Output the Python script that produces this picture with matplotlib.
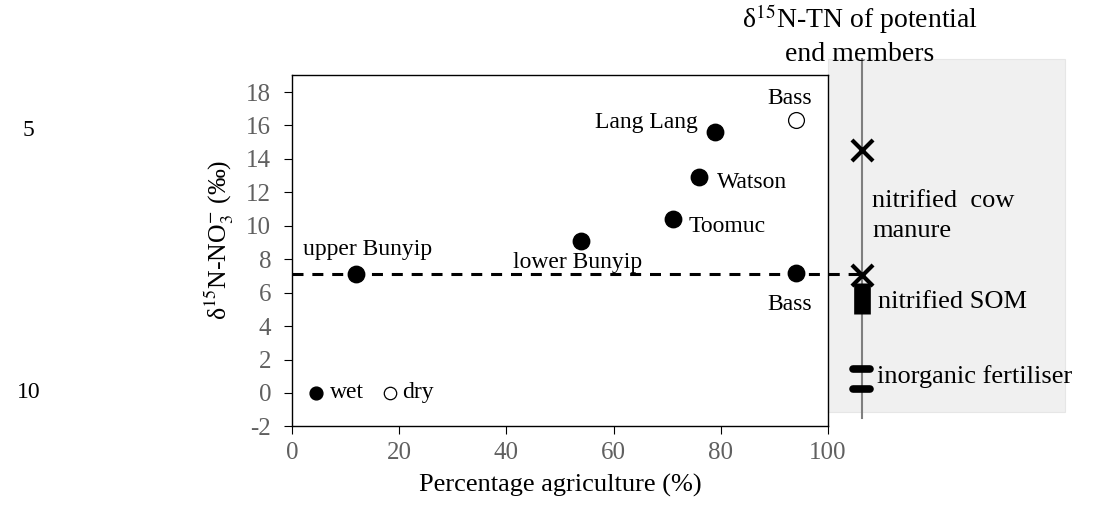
import matplotlib.pyplot as plt
from matplotlib.patches import Rectangle

plt.rcParams['font.family'] = ['Liberation Serif', 'DejaVu Serif']
plt.rcParams['mathtext.fontset'] = 'stix'
plt.rcParams['axes.unicode_minus'] = False

# site data (wet season, filled)
sites = ['upper Bunyip', 'lower Bunyip', 'Toomuc', 'Watson', 'Lang Lang', 'Bass']
agri_wet = [12, 54, 71, 76, 79, 94]
d15n_wet = [7.1, 9.1, 10.4, 12.9, 15.6, 7.2]
# dry season (open)
agri_dry = [94]
d15n_dry = [16.3]

# end members (d15N-TN)
cow_manure = [14.55, 7.05]
som_range = [4.7, 6.6]
fertiliser = [1.43, 0.24]
mean_line = 7.1

xticks = [0, 20, 40, 60, 80, 100]
yticks = [-2, 0, 2, 4, 6, 8, 10, 12, 14, 16, 18]

fig = plt.figure(figsize=(10.93, 5.16), dpi=100)
ax = fig.add_axes([0.2672, 0.1736, 0.4904, 0.6804])

grey = '#606060'
em_x = 106.3  # position of the end-member strip

# grey panel
ax.add_patch(Rectangle((100, -1.15), 44.2, 21.1, facecolor='#f0f0f0',
                       edgecolor='#e6e6e6', lw=0.8, clip_on=False, zorder=0))
ax.plot([em_x, em_x], [-1.5, 19.95], color='#7f7f7f', lw=1.5, clip_on=False, zorder=1)

ax.plot([0, em_x], [mean_line, mean_line], color='black', lw=2.2, ls=(0, (3.6, 2.9)),
        clip_on=False, zorder=2)

ax.scatter(agri_wet, d15n_wet, s=140, color='black', zorder=3)
ax.scatter(agri_dry, d15n_dry, s=130, facecolor='white', edgecolor='black', lw=0.9, zorder=3)

# site labels
fs = 17
ax.text(14.0, 8.6, 'upper Bunyip', ha='center', va='center', fontsize=fs)
ax.text(41.2, 7.8, 'lower Bunyip', ha='left', va='center', fontsize=fs)
ax.text(73.9, 9.95, 'Toomuc', ha='left', va='center', fontsize=fs)
ax.text(79.3, 12.6, 'Watson', ha='left', va='center', fontsize=fs)
ax.text(75.7, 16.2, 'Lang Lang', ha='right', va='center', fontsize=fs)
ax.text(92.9, 17.6, 'Bass', ha='center', va='center', fontsize=fs)
ax.text(92.9, 5.3, 'Bass', ha='center', va='center', fontsize=fs)

# wet / dry key
ax.scatter([4.5], [0], s=85, color='black', zorder=3)
ax.text(7.1, 0.05, 'wet', ha='left', va='center', fontsize=fs)
ax.scatter([18.3], [0], s=80, facecolor='white', edgecolor='black', lw=0.9, zorder=3)
ax.text(20.6, 0.05, 'dry', ha='left', va='center', fontsize=fs)

# end member markers
ax.scatter([em_x] * len(cow_manure), cow_manure, marker='x', s=230, color='black',
           lw=3, clip_on=False, zorder=4)
ax.plot([em_x, em_x], som_range, color='black', lw=12, solid_capstyle='butt',
        clip_on=False, zorder=4)
for v in fertiliser:
    ax.plot([em_x - 1.6, em_x + 1.6], [v, v], color='black', lw=5.5,
            solid_capstyle='round', clip_on=False, zorder=4)

fs2 = 19
ax.text(108.2, 10.6, 'nitrified  cow\nmanure', ha='left', va='center', fontsize=fs2,
        linespacing=1.5)
ax.text(109.3, 5.45, 'nitrified SOM', ha='left', va='center', fontsize=fs2)
ax.text(109.1, 0.96, 'inorganic fertiliser', ha='left', va='center', fontsize=fs2)

ax.set_xlim(0, 100)
ax.set_ylim(-2, 19)
ax.set_xticks(xticks)
ax.set_yticks(yticks)
ax.tick_params(direction='out', length=6, labelsize=18, labelcolor=grey, color='black')
ax.tick_params(axis='y', pad=9)
ax.tick_params(axis='x', pad=5)
for s in ax.spines.values():
    s.set_linewidth(1)

ax.set_xlabel('Percentage agriculture (%)', fontsize=19)
ax.xaxis.set_label_coords(0.5, -0.135)
ax.set_ylabel(r'δ$^{15}$N-NO$_3^{-}$ (‰)', fontsize=18.5)
ax.yaxis.set_label_coords(-0.104, 0.53)

fig.text(860 / 1093, 1 - 35 / 516, 'δ$^{15}$N-TN of potential\nend members', ha='center',
         va='center', fontsize=20, linespacing=1.3)

fig.text(0.026, 1 - 130 / 516, '5', ha='center', va='center', fontsize=17)
fig.text(0.026, 1 - 393 / 516, '10', ha='center', va='center', fontsize=17)

fig.savefig('out.png', dpi=100)
